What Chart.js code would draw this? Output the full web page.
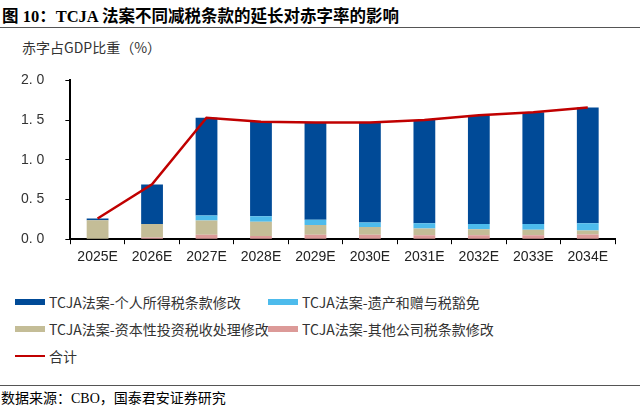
<!DOCTYPE html>
<html>
<head>
<meta charset="utf-8">
<script src="https://cdn.jsdelivr.net/npm/chart.js@4"></script>
<style>
  body { margin: 0; width: 640px; height: 408px; background: #fff; position: relative; overflow: hidden; font-family: "Noto Sans CJK SC", sans-serif; }
  #title { position: absolute; left: 2px; top: 3px; font: bold 16.5px "Liberation Serif", "Noto Sans CJK SC", serif; color: #000; }
  #rule1 { position: absolute; left: 0; top: 27px; width: 640px; height: 1px; background: #555; }
  #unit { position: absolute; left: 22px; top: 37px; font-size: 14px; color: #333; }
  #wrap { position: absolute; left: 0; top: 51px; width: 640px; height: 220px; }
  #legend { position: absolute; left: 15px; top: 292px; width: 625px; font-size: 14px; color: #333; }
  .item { position: absolute; display: flex; align-items: center; white-space: nowrap; }
  .sw { width: 30px; height: 6px; margin-right: 4px; }
  .ln { width: 30px; height: 2px; margin-right: 4px; }
  #rule2 { position: absolute; left: 0; top: 385px; width: 640px; height: 1px; background: #555; }
  #source { position: absolute; left: 1px; top: 387px; font: 14px "Liberation Serif", "Noto Sans CJK SC", serif; color: #000; }
</style>
</head>
<body>
<div id="title">图 10：TCJA 法案不同减税条款的延长对赤字率的影响</div>
<div id="rule1"></div>
<div id="unit">赤字占GDP比重（%）</div>
<div id="wrap"><canvas id="chart"></canvas></div>
<div id="legend"></div>
<div id="rule2"></div>
<div id="source">数据来源：CBO，国泰君安证券研究</div>
<script>
// categories and series (share of GDP, %)
const years = ['2025E', '2026E', '2027E', '2028E', '2029E', '2030E', '2031E', '2032E', '2033E', '2034E'];
const personal = [0.02, 0.50, 1.23, 1.19, 1.225, 1.26, 1.30, 1.37, 1.41, 1.46];
const estate = [0, 0, 0.065, 0.07, 0.065, 0.055, 0.064, 0.066, 0.07, 0.09];
const capital = [0.24, 0.17, 0.18, 0.18, 0.125, 0.10, 0.086, 0.074, 0.07, 0.05];
const corporate = [0, 0.02, 0.055, 0.04, 0.055, 0.055, 0.05, 0.05, 0.05, 0.06];
const total = [0.26, 0.69, 1.53, 1.48, 1.47, 1.47, 1.50, 1.56, 1.60, 1.66];
const yTicks = [0, 0.5, 1.0, 1.5, 2.0];

const names = {
    personal: 'TCJA法案-个人所得税条款修改',
    estate: 'TCJA法案-遗产和赠与税豁免',
    capital: 'TCJA法案-资本性投资税收处理修改',
    corporate: 'TCJA法案-其他公司税条款修改',
    total: '合计'
};
const colors = {
    personal: '#004a97',
    estate: '#4dbbec',
    capital: '#c4bd97',
    corporate: '#dc9a98',
    total: '#c00000'
};

const bar = (key, data) => ({
    type: 'bar',
    label: names[key],
    data: data,
    backgroundColor: colors[key],
    stack: 'parts',
    order: 1,
    barPercentage: 0.4,
    categoryPercentage: 1.0
});

const axisFont = { family: 'Liberation Sans', size: 14 };

new Chart(document.getElementById('chart'), {
    data: {
        labels: years,
        datasets: [
            {
                type: 'line',
                label: names.total,
                data: total,
                borderColor: colors.total,
                borderWidth: 2.5,
                pointRadius: 0,
                tension: 0,
                stack: 'total',
                order: 0
            },
            bar('corporate', corporate),
            bar('capital', capital),
            bar('estate', estate),
            bar('personal', personal)
        ]
    },
    options: {
        responsive: true,
        maintainAspectRatio: false,
        animation: false,
        layout: { padding: { left: 0, right: 25, top: 2, bottom: 0 } },
        plugins: { legend: { display: false }, tooltip: { enabled: false } },
        scales: {
            x: {
                stacked: true,
                grid: { display: true, offset: true, drawOnChartArea: false, drawTicks: true, tickLength: 5, color: '#000' },
                border: { color: '#000', width: 2 },
                ticks: { color: '#222', font: axisFont, padding: 5, maxRotation: 0 }
            },
            y: {
                stacked: true,
                min: 0,
                max: 2,
                afterBuildTicks: axis => { axis.ticks = yTicks.map(v => ({ value: v })); },
                grid: { display: true, drawOnChartArea: false, drawTicks: true, tickLength: 5, color: '#000' },
                border: { color: '#000', width: 2 },
                ticks: {
                    color: '#333',
                    font: axisFont,
                    padding: 21,
                    callback: v => v.toFixed(1).replace('.', '. ')
                }
            }
        }
    }
});

// legend, two columns like the original
const legendItems = [
    ['personal', 'bar', 0, 0],
    ['estate', 'bar', 253, 0],
    ['capital', 'bar', 0, 27],
    ['corporate', 'bar', 253, 27],
    ['total', 'line', 0, 54]
];
const legend = document.getElementById('legend');
legendItems.forEach(([key, kind, x, y]) => {
    const el = document.createElement('div');
    el.className = 'item';
    el.style.left = x + 'px';
    el.style.top = y + 'px';
    el.innerHTML = '<span class="' + (kind === 'bar' ? 'sw' : 'ln') + '" style="background:' + colors[key] + '"></span>' + names[key];
    legend.appendChild(el);
});
</script>
</body>
</html>
